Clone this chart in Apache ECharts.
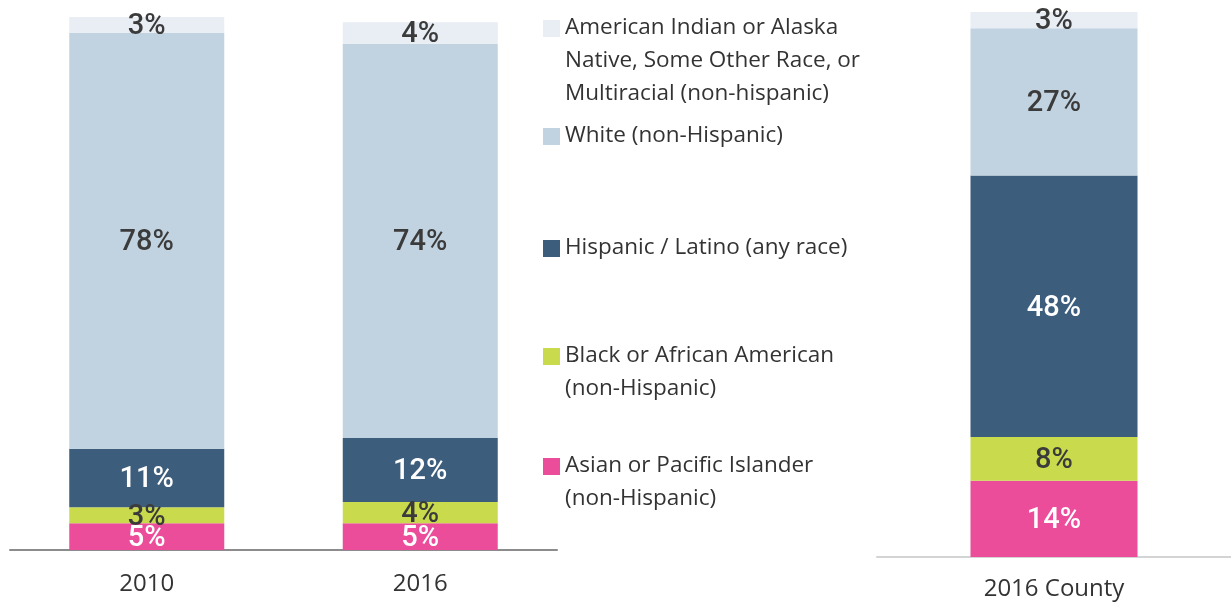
<!DOCTYPE html>
<html>
<head>
<meta charset="utf-8">
<script src="https://cdn.jsdelivr.net/npm/echarts@6/dist/echarts.min.js"></script>
<style>
  html, body { margin: 0; padding: 0; background: #ffffff; }
  #chart { width: 1231px; height: 606px; }
</style>
</head>
<body>
<div id="chart"></div>
<script>
// Population share by race / ethnicity (percent)
const cityYears = ['2010', '2016'];
const countyYears = ['2016 County'];

const groupNames = [
  'Asian or Pacific Islander (non-Hispanic)',
  'Black or African American (non-Hispanic)',
  'Hispanic / Latino (any race)',
  'White (non-Hispanic)',
  'American Indian or Alaska Native, Some Other Race, or Multiracial (non-hispanic)'
];
const legendLines = [
  ['Asian or Pacific Islander', '(non-Hispanic)'],
  ['Black or African American', '(non-Hispanic)'],
  ['Hispanic / Latino (any race)'],
  ['White (non-Hispanic)'],
  ['American Indian or Alaska', 'Native, Some Other Race, or', 'Multiracial (non-hispanic)']
];

// values per group, bottom to top of each stack
const asianCity = [5, 5];
const blackCity = [3, 4];
const hispanicCity = [11, 12];
const whiteCity = [78, 74];
const otherCity = [3, 4];

const asianCounty = [14];
const blackCounty = [8];
const hispanicCounty = [48];
const whiteCounty = [27];
const otherCounty = [3];

const groupColors = ['#ec4d9b', '#c9db4c', '#3d5d7c', '#c1d3e1', '#e8eef3'];
const labelColors = ['#ffffff', '#3b3b3b', '#ffffff', '#3b3b3b', '#3b3b3b'];

const cityData = [asianCity, blackCity, hispanicCity, whiteCity, otherCity];
const countyData = [asianCounty, blackCounty, hispanicCounty, whiteCounty, otherCounty];

function stackSeries(dataSets, axisIndex, stackId, barWidth) {
  return dataSets.map((values, i) => ({
    name: groupNames[i],
    type: 'bar',
    stack: stackId,
    xAxisIndex: axisIndex,
    yAxisIndex: axisIndex,
    barWidth: barWidth,
    data: values,
    itemStyle: { color: groupColors[i] },
    label: {
      show: true,
      position: 'inside',
      offset: [0, 2],
      formatter: '{c}%',
      color: labelColors[i],
      fontFamily: 'Roboto, sans-serif',
      fontWeight: 500,
      fontSize: 29
    },
    emphasis: { disabled: true }
  }));
}

// legend drawn as swatch + wrapped text blocks
const legendTop = [458, 348, 240, 128, 20];
const legendGraphics = [];
groupNames.forEach((name, i) => {
  legendGraphics.push({
    type: 'rect',
    left: 543,
    top: legendTop[i],
    shape: { width: 17, height: 17 },
    style: { fill: groupColors[i] }
  });
  legendGraphics.push({
    type: 'text',
    left: 565,
    top: legendTop[i] + 8 - 16.5,
    style: {
      text: legendLines[i].join('\n'),
      fill: '#333333',
      font: '22.5px "Open Sans", sans-serif',
      lineHeight: 33
    }
  });
});

const chart = echarts.init(document.getElementById('chart'));
chart.setOption({
  animation: false,
  backgroundColor: '#ffffff',
  grid: [
    { left: 10, width: 547, top: 17, bottom: 56 },
    { left: 877, width: 359, top: 12, bottom: 49 }
  ],
  xAxis: [
    {
      type: 'category', gridIndex: 0, data: cityYears,
      axisLine: { lineStyle: { color: '#8c8c8c', width: 2 } },
      axisTick: { show: false },
      axisLabel: { color: '#333333', fontSize: 24, fontFamily: '"Open Sans", sans-serif', margin: 22 }
    },
    {
      type: 'category', gridIndex: 1, data: countyYears,
      axisLine: { lineStyle: { color: '#d4d4d4', width: 2 } },
      axisTick: { show: false },
      axisLabel: { color: '#333333', fontSize: 24, fontFamily: '"Open Sans", sans-serif', margin: 20 }
    }
  ],
  yAxis: [
    { type: 'value', gridIndex: 0, min: 0, max: 100, show: false, splitLine: { show: false } },
    { type: 'value', gridIndex: 1, min: 0, max: 100, show: false, splitLine: { show: false } }
  ],
  series: [
    ...stackSeries(cityData, 0, 'city', 155),
    ...stackSeries(countyData, 1, 'county', 167)
  ],
  graphic: legendGraphics
});
</script>
</body>
</html>
